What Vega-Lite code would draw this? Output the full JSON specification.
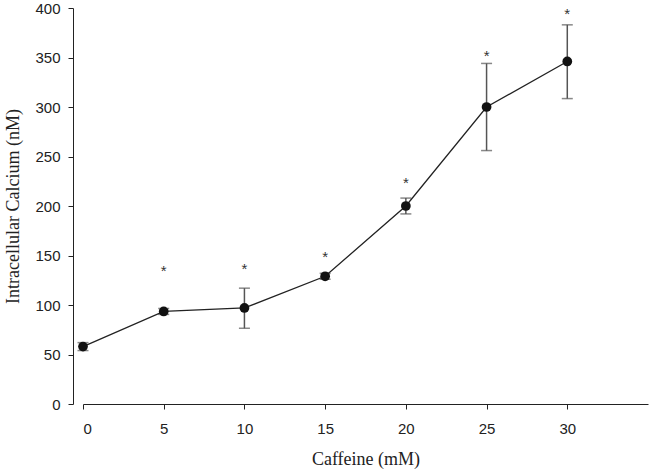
{
  "$schema": "https://vega.github.io/schema/vega-lite/v6.json",
  "autosize": "none",
  "width": 565,
  "height": 396,
  "padding": {"left": 83, "top": 8, "right": 2, "bottom": 67},
  "background": "white",
  "config": {"view": {"stroke": null}},
  "data": {
    "values": [
      {"caffeine": 0, "calcium": 58, "lo": 54, "hi": 62, "star": null},
      {"caffeine": 5, "calcium": 93.5, "lo": 90.5, "hi": 96.5, "star": 138},
      {"caffeine": 10, "calcium": 97, "lo": 76.5, "hi": 117, "star": 140},
      {"caffeine": 15, "calcium": 129, "lo": 126, "hi": 132, "star": 153},
      {"caffeine": 20, "calcium": 200, "lo": 192, "hi": 208, "star": 227},
      {"caffeine": 25, "calcium": 300, "lo": 256, "hi": 344, "star": 356},
      {"caffeine": 30, "calcium": 346, "lo": 308.5, "hi": 383, "star": 398}
    ]
  },
  "encoding": {
    "x": {
      "field": "caffeine",
      "type": "quantitative",
      "scale": {"domain": [0, 35], "nice": false, "zero": false},
      "axis": {
        "title": "Caffeine (mM)",
        "values": [0, 5, 10, 15, 20, 25, 30],
        "grid": false,
        "domainColor": "#222",
        "tickColor": "#222",
        "tickSize": 5,
        "labelFont": "Liberation Sans",
        "labelFontSize": 15,
        "labelColor": "#222",
        "labelPadding": 12,
        "titleFont": "Liberation Serif",
        "titleFontSize": 18,
        "titleFontWeight": "normal",
        "titleColor": "#222",
        "titlePadding": 14
      }
    }
  },
  "layer": [
    {
      "mark": {"type": "rule", "color": "#555", "strokeWidth": 1.5},
      "encoding": {
        "y": {
          "field": "lo",
          "type": "quantitative",
          "scale": {"domain": [0, 400], "nice": false},
          "axis": {
            "title": "Intracellular Calcium (nM)",
            "values": [0, 50, 100, 150, 200, 250, 300, 350, 400],
            "grid": false,
            "offset": 10,
            "domainColor": "#222",
            "tickColor": "#222",
            "tickSize": 5,
            "labelFont": "Liberation Sans",
            "labelFontSize": 15,
            "labelColor": "#222",
            "labelPadding": 8,
            "titleFont": "Liberation Serif",
            "titleFontSize": 18,
            "titleFontWeight": "normal",
            "titleColor": "#222",
            "titlePadding": 12
          }
        },
        "y2": {"field": "hi"}
      }
    },
    {
      "mark": {"type": "tick", "color": "#555", "thickness": 1.5, "size": 11, "orient": "horizontal"},
      "encoding": {"y": {"field": "lo", "type": "quantitative"}}
    },
    {
      "mark": {"type": "tick", "color": "#555", "thickness": 1.5, "size": 11, "orient": "horizontal"},
      "encoding": {"y": {"field": "hi", "type": "quantitative"}}
    },
    {
      "mark": {"type": "line", "color": "#222", "strokeWidth": 1.3},
      "encoding": {"y": {"field": "calcium", "type": "quantitative"}}
    },
    {
      "mark": {"type": "point", "filled": true, "color": "#111", "opacity": 1, "size": 95},
      "encoding": {"y": {"field": "calcium", "type": "quantitative"}}
    },
    {
      "transform": [{"filter": "datum.star != null"}],
      "mark": {"type": "text", "text": "*", "font": "Liberation Sans", "fontSize": 15, "color": "#333", "baseline": "middle", "dy": 4},
      "encoding": {"y": {"field": "star", "type": "quantitative"}}
    }
  ]
}
